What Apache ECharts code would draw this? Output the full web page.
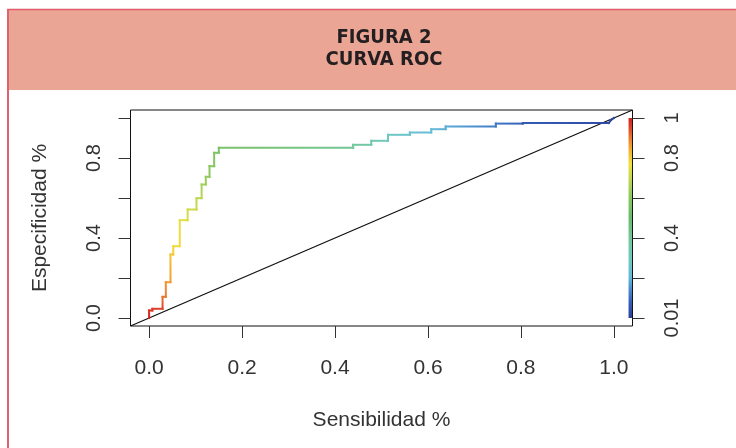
<!DOCTYPE html>
<html><head><meta charset="utf-8">
<script src="https://cdn.jsdelivr.net/npm/echarts@6/dist/echarts.min.js"></script>
<style>html,body{margin:0;padding:0;background:#fff}#c{width:736px;height:448px}</style>
</head><body><div id="c"></div>
<script>
// ---- data ----
const titleLines = ['FIGURA 2', 'CURVA ROC'];
const xName = 'Sensibilidad %';
const yName = 'Especificidad %';
const xTicks = [0, 0.2, 0.4, 0.6, 0.8, 1.0];
const xTickLabels = ['0.0', '0.2', '0.4', '0.6', '0.8', '1.0'];
const yTicks = [0, 0.2, 0.4, 0.6, 0.8, 1.0];
const yLabelValues = [0, 0.4, 0.8];
const yTickLabels = ['0.0', '0.4', '0.8'];
const cutTicks = [0, 0.2, 0.4, 0.6, 0.8, 1.0];
const cutLabelValues = [0, 0.4, 0.8, 1.0];
const cutTickLabels = ['0.01', '0.4', '0.8', '1'];
const fpr = [0, 0, 0.007, 0.007, 0.029, 0.029, 0.036, 0.036, 0.046, 0.046, 0.052, 0.052, 0.066, 0.066, 0.083, 0.083, 0.102, 0.102, 0.113, 0.113, 0.122, 0.122, 0.130, 0.130, 0.140, 0.140, 0.150, 0.150, 0.439, 0.439, 0.478, 0.478, 0.514, 0.514, 0.561, 0.561, 0.607, 0.607, 0.638, 0.638, 0.746, 0.746, 0.804, 0.804, 0.989, 0.993, 1.0];
const tpr = [0, 0.0375, 0.0375, 0.046, 0.046, 0.106, 0.106, 0.179, 0.179, 0.3175, 0.3175, 0.359, 0.359, 0.489, 0.489, 0.5425, 0.5425, 0.599, 0.599, 0.6675, 0.6675, 0.706, 0.706, 0.759, 0.759, 0.826, 0.826, 0.851, 0.851, 0.866, 0.866, 0.886, 0.886, 0.916, 0.916, 0.9275, 0.9275, 0.944, 0.944, 0.9575, 0.9575, 0.972, 0.972, 0.975, 0.975, 0.988, 1.0];
const cutoff = [1.0, 0.98, 0.97, 0.96, 0.95, 0.91, 0.90, 0.87, 0.86, 0.81, 0.80, 0.78, 0.775, 0.75, 0.74, 0.72, 0.71, 0.69, 0.68, 0.65, 0.64, 0.62, 0.615, 0.60, 0.59, 0.57, 0.56, 0.55, 0.40, 0.39, 0.35, 0.34, 0.30, 0.29, 0.25, 0.245, 0.22, 0.215, 0.19, 0.185, 0.12, 0.115, 0.08, 0.07, 0.03, 0.02, 0.01];
const diagX = [-0.04, 1.04];
const diagY = [-0.04, 1.04];
const cutRange = [0, 1];

// ---- styles ----
const palStops = [
  [0.00, '#2a3f98'], [0.08, '#3560b8'], [0.14, '#4a88cc'], [0.20, '#62b8dc'],
  [0.28, '#6ec8c4'], [0.38, '#74c8a0'], [0.50, '#68bc6c'], [0.60, '#88c860'],
  [0.70, '#c4d850'], [0.77, '#f2e03c'], [0.84, '#f4b030'], [0.90, '#ea7a30'],
  [0.96, '#dc3c28'], [1.00, '#d42020']
];
function hex2rgb(h){return [parseInt(h.substr(1,2),16),parseInt(h.substr(3,2),16),parseInt(h.substr(5,2),16)];}
function pal(t){
  t = Math.max(0, Math.min(1, t));
  for (let i = 1; i < palStops.length; i++) {
    if (t <= palStops[i][0]) {
      const a = palStops[i-1], b = palStops[i];
      const f = (t - a[0]) / (b[0] - a[0]);
      const ca = hex2rgb(a[1]), cb = hex2rgb(b[1]);
      return 'rgb(' + ca.map((v,k)=>Math.round(v + (cb[k]-v)*f)).join(',') + ')';
    }
  }
  return palStops[palStops.length-1][1];
}
const FONT = '"Liberation Sans", Arial, sans-serif';
const TXT = '#333333';
function lookup(vals, labels){
  return function(v){
    for (let i = 0; i < vals.length; i++) if (Math.abs(vals[i]-v) < 1e-9) return labels[i];
    return '';
  };
}

const segs = [];
for (let i = 0; i < fpr.length - 1; i++) segs.push([fpr[i], tpr[i], fpr[i+1], tpr[i+1], cutoff[i], cutoff[i+1]]);

const chart = echarts.init(document.getElementById('c'), null, {renderer: 'canvas'});
const axisTickStyle = {show: true, inside: false, length: 12, lineStyle: {color: '#333', width: 1}};

chart.setOption({
  backgroundColor: '#ffffff',
  animation: false,
  grid: {left: 130.5, right: 103.5, top: 110, bottom: 122, show: true, borderColor: '#111', borderWidth: 1, backgroundColor: 'transparent'},
  graphic: [
    {type: 'rect', shape: {x: 7, y: 9, width: 740, height: 81}, style: {fill: '#EBA594'}, z: 0},
    {type: 'line', shape: {x1: 7, y1: 9.5, x2: 736, y2: 9.5}, style: {stroke: '#E05C68', lineWidth: 1.5}, z: 1},
    {type: 'line', shape: {x1: 8, y1: 9, x2: 8, y2: 448}, style: {stroke: '#E0626E', lineWidth: 2}, z: 1},
    {type: 'text', x: 384, y: 49, style: {text: titleLines.join('\n'), fill: '#231f20', font: 'bold 20px "Liberation Sans Narrow", "DejaVu Sans Condensed", sans-serif', lineHeight: 22, textAlign: 'center', textVerticalAlign: 'middle'}, z: 2}
  ],
  xAxis: {
    type: 'value', min: -0.04, max: 1.04,
    axisLine: {show: false, onZero: false}, splitLine: {show: false},
    axisTick: Object.assign({customValues: xTicks}, axisTickStyle),
    axisLabel: {customValues: xTicks, formatter: lookup(xTicks, xTickLabels), fontSize: 21, fontFamily: FONT, color: TXT, margin: 32},
    name: xName, nameLocation: 'middle', nameGap: 84,
    nameTextStyle: {fontSize: 21, fontFamily: FONT, color: TXT}
  },
  yAxis: [{
    type: 'value', min: -0.04, max: 1.04, position: 'left',
    axisLine: {show: false, onZero: false}, splitLine: {show: false},
    axisTick: Object.assign({customValues: yTicks}, axisTickStyle),
    axisLabel: {customValues: yLabelValues, formatter: lookup(yLabelValues, yTickLabels), fontSize: 20, fontFamily: FONT, color: TXT, margin: 26, rotate: 90},
    name: yName, nameLocation: 'middle', nameGap: 80, nameRotate: 90,
    nameTextStyle: {fontSize: 21, fontFamily: FONT, color: TXT}
  }, {
    type: 'value', min: -0.04, max: 1.04, position: 'right',
    axisLine: {show: false, onZero: false}, splitLine: {show: false},
    axisTick: Object.assign({customValues: cutTicks}, axisTickStyle),
    axisLabel: {customValues: cutLabelValues, formatter: lookup(cutLabelValues, cutTickLabels), fontSize: 20, fontFamily: FONT, color: TXT, margin: 30, rotate: 90}
  }],
  series: [
    {
      type: 'line', data: diagX.map((x, i) => [x, diagY[i]]), symbol: 'none', silent: true,
      lineStyle: {color: '#111', width: 1.3}, z: 3
    },
    {
      type: 'custom', data: segs, encode: {x: [0, 2], y: [1, 3]}, z: 4, silent: true,
      renderItem: function(params, api){
        const p1 = api.coord([api.value(0), api.value(1)]);
        const p2 = api.coord([api.value(2), api.value(3)]);
        const g = new echarts.graphic.LinearGradient(p1[0], p1[1], p2[0], p2[1] + 0.001,
          [{offset: 0, color: pal(api.value(4))}, {offset: 1, color: pal(api.value(5))}], true);
        return {type: 'line', shape: {x1: p1[0], y1: p1[1], x2: p2[0], y2: p2[1]}, style: {stroke: g, lineWidth: 2, lineCap: 'square'}};
      }
    },
    {
      type: 'custom', data: [cutRange], z: 2, silent: true, clip: false,
      renderItem: function(params, api){
        const top = api.coord([1.0315, api.value(1)]);
        const bot = api.coord([1.0390, api.value(0)]);
        const stops = palStops.map(s => ({offset: 1 - s[0], color: s[1]}));
        stops.reverse();
        return {type: 'rect', shape: {x: top[0], y: top[1], width: bot[0] - top[0], height: bot[1] - top[1]},
          style: {fill: new echarts.graphic.LinearGradient(0, 0, 0, 1, stops)}};
      }
    }
  ]
});
</script></body></html>
